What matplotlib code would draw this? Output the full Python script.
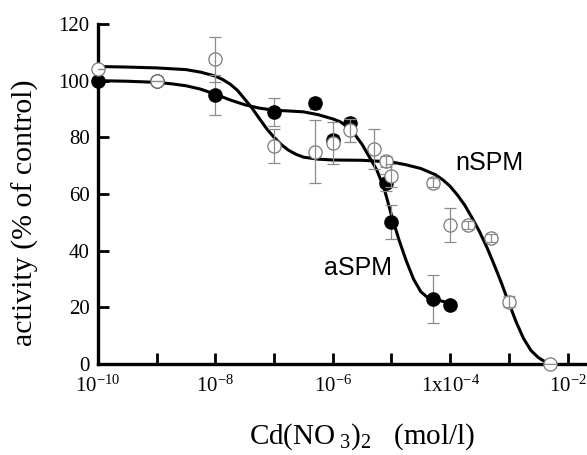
import matplotlib

matplotlib.use("Agg")
import matplotlib.pyplot as plt  # noqa: E402
from matplotlib.ticker import FixedFormatter, FixedLocator, NullLocator  # noqa: E402

# measured points, aSPM (filled) and nSPM (open)
ASPM_X = [1e-10, 1e-9, 1e-8, 1e-7, 5e-7, 1e-6, 2e-6, 8e-6, 1e-5, 5e-5, 1e-4]
ASPM_Y = [100, 100, 95, 89, 92, 79, 85, 64, 50, 23, 21]
ASPM_ERR = [0, 0, 7, 5, 2, 2, 2, 3, 6, 8.5, 0]

NSPM_X = [1e-10, 1e-9, 1e-8, 1e-7, 5e-7, 1e-6, 2e-6, 5e-6, 8e-6, 1e-5,
          5e-5, 1e-4, 2e-4, 5e-4, 1e-3, 5e-3]
NSPM_Y = [104, 100, 107.5, 77, 75, 78, 82.5, 76, 71.5, 66.5,
          64, 49, 49, 44.5, 22, 0]
NSPM_ERR = [0, 0, 8, 6, 11, 7.5, 4, 7, 2, 4, 1.5, 6, 1.5, 1.5, 2, 0]

# fitted curves (log10 of concentration, activity)
ASPM_FIT_LOGX = [-10, -9.5, -9, -8.75, -8.5, -8.25, -8, -7.75, -7.5, -7.25,
                 -7, -6.5, -6.25, -6, -5.875, -5.75, -5.625, -5.5, -5.375,
                 -5.25, -5.125, -5, -4.875, -4.75, -4.625, -4.5, -4.375,
                 -4.25, -4]
ASPM_FIT_Y = [100, 99.8, 99.4, 98.9, 98.2, 97.0, 95.2, 93.2, 91.5, 90.3,
              89.6, 89.0, 88.0, 86.5, 85.5, 83.8, 81.0, 77.5, 73.0,
              68.5, 62.0, 52.5, 44.0, 36.5, 30.0, 25.5, 23.3,
              22.7, 21.5]
NSPM_FIT_LOGX = [-10, -9.5, -9, -8.5, -8.25, -8, -7.875, -7.75, -7.625, -7.5,
                 -7.375, -7.25, -7.125, -7, -6.875, -6.75, -6.625, -6.5,
                 -6.25, -6, -5.5, -5, -4.75, -4.5, -4.25, -4.125, -4,
                 -3.875, -3.75, -3.625, -3.5, -3.375, -3.25, -3.125, -3,
                 -2.875, -2.75, -2.625, -2.5, -2.4, -2.3]
NSPM_FIT_Y = [105, 104.8, 104.5, 103.9, 103.0, 101.6, 100.4, 98.8, 96.6, 93.5,
              90.3, 86.6, 83.0, 80.0, 77.4, 75.4, 74.0, 73.0,
              72.3, 72.0, 71.9, 71.3, 70.3, 69.0, 66.8, 65.0, 62.7,
              59.6, 56.0, 51.5, 46.7, 41.2, 35.0, 28.5, 21.5,
              14.8, 9.0, 4.8, 2.3, 1.0, 0.3]

X_TICKS = [1e-10, 1e-9, 1e-8, 1e-7, 1e-6, 1e-5, 1e-4, 1e-3, 1e-2]
X_TICK_LABELS = [r"$\mathregular{10^{-10}}$", "", r"$\mathregular{10^{-8}}$", "",
                 r"$\mathregular{10^{-6}}$", "", r"$\mathregular{1x10^{-4}}$", "",
                 r"$\mathregular{10^{-2}}$"]
Y_TICKS = [0, 20, 40, 60, 80, 100, 120]

plt.rcParams["mathtext.fontset"] = "custom"
plt.rcParams["mathtext.rm"] = "Liberation Serif"
plt.rcParams["mathtext.it"] = "Liberation Serif:italic"
plt.rcParams["mathtext.bf"] = "Liberation Serif:bold"

SERIF = "Liberation Serif"
SANS = "Liberation Sans"

fig = plt.figure(figsize=(5.87, 4.55), dpi=100)
ax = fig.add_axes([98 / 587, 1 - 364 / 455, (586 - 98) / 587, (364 - 24) / 455])

ax.plot([10 ** v for v in ASPM_FIT_LOGX], ASPM_FIT_Y, color="black", lw=2.2,
        solid_joinstyle="round", zorder=2)
ax.plot([10 ** v for v in NSPM_FIT_LOGX], NSPM_FIT_Y, color="black", lw=2.2,
        solid_joinstyle="round", zorder=2)

ax.errorbar(ASPM_X, ASPM_Y, yerr=ASPM_ERR, fmt="none", ecolor="#8c8c8c",
            elinewidth=0.9, capsize=4.5, capthick=0.9, zorder=2.5)
ax.plot(ASPM_X, ASPM_Y, "o", color="black", ms=9.5, zorder=3, clip_on=False)
ax.plot(NSPM_X, NSPM_Y, "o", mfc="white", mec="#7a7a7a", mew=0.9, ms=9.5,
        zorder=4, clip_on=False)
ax.errorbar(NSPM_X, NSPM_Y, yerr=NSPM_ERR, fmt="none", ecolor="#8c8c8c",
            elinewidth=0.9, capsize=4.5, capthick=0.9, zorder=4.5)

ax.set_xscale("log")
ax.set_xlim(1e-10, 10 ** -1.686)
ax.set_ylim(0, 120)
ax.xaxis.set_major_locator(FixedLocator(X_TICKS))
ax.xaxis.set_major_formatter(FixedFormatter(X_TICK_LABELS))
ax.xaxis.set_minor_locator(NullLocator())
ax.set_yticks(Y_TICKS)

for side in ("top", "right"):
    ax.spines[side].set_visible(False)
for side in ("left", "bottom"):
    ax.spines[side].set_linewidth(2.4)
ax.tick_params(direction="in", length=8, width=2, labelsize=15, pad=8)
ax.tick_params(axis="y", pad=6)
for lab in ax.get_xticklabels() + ax.get_yticklabels():
    lab.set_fontfamily(SERIF)

ax.text(10 ** -3.34, 71, "nSPM", family=SANS, fontsize=18, ha="center", va="center")
ax.text(10 ** -5.57, 34, "aSPM", family=SANS, fontsize=18, ha="center", va="center")

ax.set_ylabel("activity (% of control)", family=SERIF, fontsize=21.5,
              va="center", ha="center")
ax.yaxis.set_label_coords(-0.149, 0.444)
ax.set_xlabel(r"Cd(NO$_{\ 3}$)$_2$   (mol/l)", family=SERIF, fontsize=21)
ax.xaxis.set_label_coords(0.541, -0.17)

fig.savefig("out.png", dpi=100)
